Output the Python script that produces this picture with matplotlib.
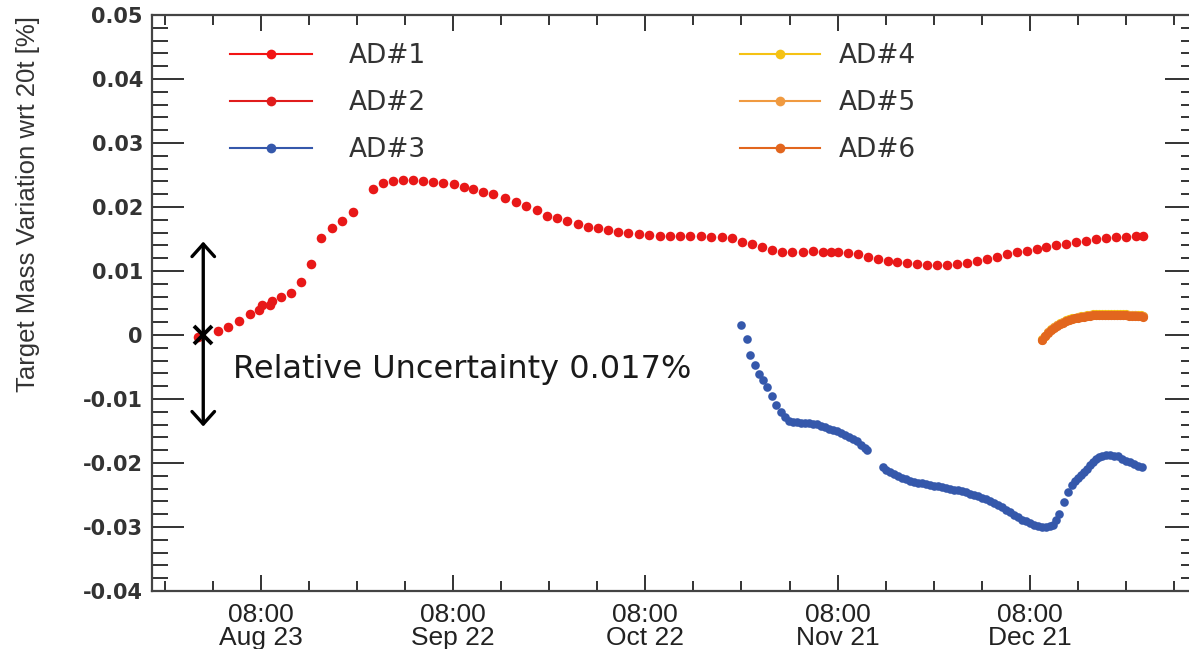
import matplotlib
matplotlib.use("Agg")
import matplotlib.pyplot as plt
import matplotlib.dates as mdates
from matplotlib.ticker import MultipleLocator, FixedLocator, FuncFormatter
from matplotlib.lines import Line2D
from matplotlib import font_manager as fm
import numpy as np
from datetime import datetime

# ---------------------------------------------------------------------------
# Data: days relative to 2011-08-23 08:00, target mass variation in %
# ---------------------------------------------------------------------------
ad12_days = [-9.78, -6.66, -5.10, -3.43, -1.72, -0.31, 0.16, 1.40, 1.72, 3.07,
             4.68, 6.24, 7.80, 9.36, 11.03, 12.59, 14.31, 17.43, 19.09, 20.65,
             22.21, 23.77, 25.33, 26.89, 28.45, 30.12, 31.68, 33.13, 34.69, 36.25,
             38.08, 39.75, 41.31, 43.02, 44.58, 46.15, 47.71, 49.42, 50.98, 52.64,
             54.20, 55.76, 57.32, 58.99, 60.55, 62.27, 63.83, 65.39, 66.95, 68.62,
             70.18, 71.89, 73.46, 75.02, 76.58, 78.14, 79.79, 81.35, 82.91, 84.63,
             86.19, 87.75, 88.92, 90.09, 91.65, 93.21, 94.77, 96.33, 97.89, 99.20,
             100.77, 102.33, 103.89, 105.45, 107.01, 108.57, 110.13, 111.69, 113.25, 114.81,
             116.37, 117.93, 119.49, 121.05, 122.61, 124.17, 125.73, 127.29, 128.85, 130.41,
             131.97, 133.53, 135.09, 136.65, 137.69]
ad12_vals = [-0.00027, 0.00063, 0.00130, 0.00219, 0.00323, 0.00383, 0.00461, 0.00469, 0.00531, 0.00598,
             0.00661, 0.00823, 0.01105, 0.01511, 0.01667, 0.01781, 0.01917, 0.02286, 0.02380, 0.02411,
             0.02417, 0.02417, 0.02411, 0.02395, 0.02380, 0.02355, 0.02317, 0.02277, 0.02239, 0.02198,
             0.02136, 0.02083, 0.02020, 0.01953, 0.01864, 0.01823, 0.01781, 0.01730, 0.01692, 0.01667,
             0.01641, 0.01614, 0.01589, 0.01573, 0.01563, 0.01552, 0.01552, 0.01552, 0.01552, 0.01547,
             0.01536, 0.01527, 0.01511, 0.01458, 0.01417, 0.01370, 0.01328, 0.01302, 0.01302, 0.01302,
             0.01313, 0.01292, 0.01297, 0.01292, 0.01277, 0.01261, 0.01223, 0.01188, 0.01161, 0.01136,
             0.01120, 0.01105, 0.01094, 0.01094, 0.01098, 0.01109, 0.01130, 0.01161, 0.01188, 0.01223,
             0.01261, 0.01292, 0.01317, 0.01344, 0.01370, 0.01402, 0.01427, 0.01448, 0.01473, 0.01495,
             0.01511, 0.01527, 0.01536, 0.01547, 0.01547]

ad3_days = [74.91, 75.80, 76.39, 77.09, 77.79, 78.42, 79.04, 79.74, 80.45, 81.15,
            81.77, 82.40, 83.02, 83.65, 84.27, 84.89, 85.52, 86.14, 86.77, 87.39,
            88.01, 88.64, 89.26, 89.89, 90.51, 91.14, 91.76, 92.38, 93.01, 93.63,
            94.26, 94.57,
            97.02, 97.53, 98.16, 98.78, 99.41, 100.03, 100.66, 101.28, 101.90, 102.53,
            103.15, 103.78, 104.40, 105.02, 105.65, 106.27, 106.90, 107.52, 108.15, 108.77,
            109.39, 110.02, 110.64, 111.27, 111.89, 112.52, 113.14, 113.76, 114.39, 115.01,
            115.64, 116.26, 116.89, 117.51, 118.13, 118.76, 119.38, 120.01, 120.63, 121.25,
            121.88, 122.50, 123.13, 123.60, 124.06, 124.61, 125.39, 126.01, 126.56, 127.03,
            127.50, 127.97, 128.43, 128.90, 129.37, 129.84, 130.31, 130.77, 131.24, 131.87,
            132.49, 133.12, 133.74, 134.36, 134.99, 135.61, 136.24, 136.86, 137.48]
ad3_vals = [0.00156, -0.00063, -0.00305, -0.00469, -0.00602, -0.00703, -0.00813, -0.00953, -0.01094, -0.01203,
            -0.01289, -0.01336, -0.01352, -0.01364, -0.01370, -0.01375, -0.01378, -0.01384, -0.01398, -0.01422,
            -0.01442, -0.01461, -0.01484, -0.01505, -0.01527, -0.01558, -0.01589, -0.01625, -0.01664, -0.01711,
            -0.01766, -0.01797,
            -0.02067, -0.02102, -0.02141, -0.02177, -0.02203, -0.02231, -0.02253, -0.02278, -0.02294, -0.02309,
            -0.02320, -0.02331, -0.02344, -0.02356, -0.02367, -0.02378, -0.02391, -0.02403, -0.02416, -0.02428,
            -0.02441, -0.02458, -0.02477, -0.02497, -0.02519, -0.02544, -0.02567, -0.02594, -0.02625, -0.02656,
            -0.02691, -0.02727, -0.02766, -0.02805, -0.02844, -0.02883, -0.02914, -0.02942, -0.02966, -0.02984,
            -0.02997, -0.03005, -0.02992, -0.02961, -0.02891, -0.02797, -0.02609, -0.02453, -0.02336, -0.02281,
            -0.02234, -0.02188, -0.02133, -0.02086, -0.02039, -0.01992, -0.01945, -0.01914, -0.01891, -0.01880,
            -0.01880, -0.01884, -0.01898, -0.01930, -0.01961, -0.01992, -0.02023, -0.02047, -0.02070]

eh3_days = [121.88, 122.35, 122.82, 123.28, 123.75, 124.22, 124.69, 125.16, 125.62, 126.09,
            126.56, 127.03, 127.50, 127.97, 128.43, 128.90, 129.37, 129.84, 130.31, 130.77,
            131.24, 131.71, 132.18, 132.65, 133.12, 133.59, 134.05, 134.52, 134.99, 135.46,
            135.92, 136.39, 136.86, 137.33, 137.64]
ad4_vals = [-0.00070, -0.00008, 0.00047, 0.00087, 0.00123, 0.00155, 0.00184, 0.00208, 0.00229, 0.00245,
            0.00260, 0.00273, 0.00284, 0.00294, 0.00302, 0.00310, 0.00316, 0.00321, 0.00325, 0.00328,
            0.00330, 0.00330, 0.00330, 0.00330, 0.00330, 0.00328, 0.00326, 0.00325, 0.00322, 0.00320,
            0.00318, 0.00314, 0.00311, 0.00307, 0.00302]
ad5_vals = [-0.00074, -0.00012, 0.00043, 0.00083, 0.00118, 0.00149, 0.00178, 0.00201, 0.00222, 0.00238,
            0.00252, 0.00265, 0.00276, 0.00285, 0.00293, 0.00301, 0.00307, 0.00312, 0.00315, 0.00318,
            0.00320, 0.00320, 0.00320, 0.00320, 0.00320, 0.00318, 0.00316, 0.00315, 0.00312, 0.00310,
            0.00309, 0.00305, 0.00302, 0.00298, 0.00293]
ad6_vals = [-0.00078, -0.00016, 0.00039, 0.00078, 0.00113, 0.00144, 0.00172, 0.00195, 0.00216, 0.00231,
            0.00245, 0.00258, 0.00269, 0.00278, 0.00286, 0.00294, 0.00300, 0.00305, 0.00308, 0.00311,
            0.00313, 0.00313, 0.00313, 0.00313, 0.00313, 0.00311, 0.00309, 0.00308, 0.00305, 0.00303,
            0.00302, 0.00298, 0.00295, 0.00291, 0.00286]

labels = ["AD#1", "AD#2", "AD#3", "AD#4", "AD#5", "AD#6"]
colors = ["#f21414", "#e01c1c", "#3558ab", "#f5c214", "#f09a40", "#e2661e"]

uncertainty_half = [0.0146, -0.0143]   # ends of the uncertainty bar
uncertainty_day = -9.0
uncertainty_text = "Relative Uncertainty 0.017%"
ylabel = "Target Mass Variation wrt 20t [%]"

# ---------------------------------------------------------------------------
names = {f.name for f in fm.fontManager.ttflist}
narrow = "Liberation Sans Narrow" if "Liberation Sans Narrow" in names else "Liberation Sans"

W, H = 1189, 649
fig = plt.figure(figsize=(W / 100, H / 100), dpi=100)
ax = fig.add_axes([152 / W, (H - 591) / H, (1197 - 152) / W, 576 / H])

ref = mdates.date2num(datetime(2011, 8, 23, 8, 0))


def dn(days):
    return ref + np.asarray(days)


ax.plot(dn(ad12_days), ad12_vals, ls="none", marker="o", ms=6.8, mew=0, color=colors[0], zorder=3)
ax.plot(dn(ad12_days), ad12_vals, ls="none", marker="o", ms=6.8, mew=0, color=colors[1], zorder=3, alpha=0.5)
ax.plot(dn(ad3_days), ad3_vals, ls="none", marker="o", ms=6.2, mew=0, color=colors[2], zorder=3)
ax.plot(dn(eh3_days), ad4_vals, ls="none", marker="o", ms=6.6, mew=0, color=colors[3], zorder=3)
ax.plot(dn(eh3_days), ad5_vals, ls="none", marker="o", ms=6.6, mew=0, color=colors[4], zorder=3)
ax.plot(dn(eh3_days), ad6_vals, ls="none", marker="o", ms=6.6, mew=0, color=colors[5], zorder=3)

# uncertainty bar with a cross at the reference point
ax.annotate("", xy=(dn(uncertainty_day), uncertainty_half[0]),
            xytext=(dn(uncertainty_day), uncertainty_half[1]),
            arrowprops=dict(arrowstyle="<->,head_length=0.5,head_width=0.45", color="black",
                            lw=2.4, mutation_scale=18, shrinkA=0, shrinkB=0), zorder=5)
ax.plot([dn(uncertainty_day)], [0.0], marker="x", ms=13, mew=2.8, color="black", zorder=6)
ax.text(dn(-4.4), -0.0067, uncertainty_text, fontsize=23, family="DejaVu Sans",
        color="#1a1a1a", ha="left", va="baseline", zorder=6)

# axes limits and ticks
ax.set_xlim(dn(-17.0), dn(146.1))
ax.set_ylim(-0.04, 0.05)
ax.xaxis.set_major_locator(FixedLocator(dn([0, 30, 60, 90, 120])))
ax.xaxis.set_minor_locator(FixedLocator(dn(np.arange(-15, 146, 7.5))))
ax.xaxis.set_major_formatter(mdates.DateFormatter("%H:%M\n%b %d"))
ax.yaxis.set_major_locator(MultipleLocator(0.01))
ax.yaxis.set_minor_locator(MultipleLocator(0.002))


def yfmt(v, pos):
    if abs(v) < 1e-9:
        return "0"
    return f"{v:.2f}".replace("\u2212", "-")


ax.yaxis.set_major_formatter(FuncFormatter(yfmt))

ax.tick_params(axis="both", which="both", direction="in", top=True, right=True,
               color="#333333", width=1.4)
ax.tick_params(axis="x", which="major", length=11.5, pad=9)
ax.tick_params(axis="x", which="minor", length=7)
ax.tick_params(axis="y", which="major", length=23, pad=6.5)
ax.tick_params(axis="y", which="minor", length=11.5)
for lab in ax.get_yticklabels():
    lab.set_family("DejaVu Sans")
    lab.set_weight("bold")
    lab.set_fontsize(15)
    lab.set_color("#333333")
for lab in ax.get_xticklabels():
    lab.set_family(narrow)
    lab.set_fontsize(19)
    lab.set_color("#222222")
    lab.set_linespacing(0.92)
for sp in ax.spines.values():
    sp.set_color("#444444")
    sp.set_linewidth(1.6)

fig.text(28 / W, 1 - 204 / H, ylabel, rotation=90, ha="center", va="center",
         fontsize=18.5, family=narrow, color="#333333")

# legends in two columns
handles = [Line2D([], [], color=c, lw=1.5, marker="o", ms=7, mew=0) for c in colors]
leg_kw = dict(loc="upper left", frameon=False, bbox_transform=fig.transFigure,
              borderpad=0, borderaxespad=0, labelspacing=0.8,
              prop=dict(family="DejaVu Sans", size=19))
leg1 = ax.legend(handles[:3], labels[:3], bbox_to_anchor=(230 / W, 1 - 43 / H),
                 handlelength=3.1, handletextpad=1.4, **leg_kw)
for t in leg1.get_texts():
    t.set_color("#333333")
ax.add_artist(leg1)
leg2 = ax.legend(handles[3:], labels[3:], bbox_to_anchor=(740 / W, 1 - 43 / H),
                 handlelength=3.05, handletextpad=0.68, **leg_kw)
for t in leg2.get_texts():
    t.set_color("#333333")

fig.savefig("out.png", dpi=100)
